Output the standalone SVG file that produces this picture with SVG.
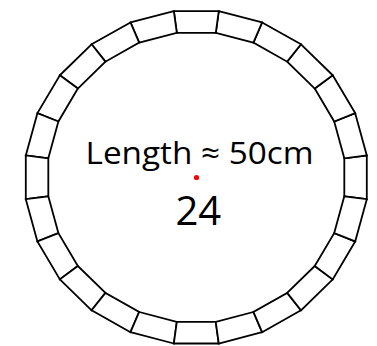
<svg xmlns="http://www.w3.org/2000/svg" width="377" height="346" viewBox="0 0 377 346">
<style>
.seg{fill:#fff;stroke:#000;stroke-width:1.8;stroke-linejoin:miter}
.lbl{font-family:"Open Sans","Liberation Sans",sans-serif;fill:#000}
</style>
<rect width="377" height="346" fill="#fff"/>
<g id="ring">
<polygon class="seg" points="366.80,155.42 366.80,199.18 344.30,196.32 344.30,158.28"/>
<polygon class="seg" points="355.18,113.15 366.80,155.42 344.30,158.28 334.22,121.52"/>
<polygon class="seg" points="332.73,75.25 355.18,113.15 334.22,121.52 314.73,88.57"/>
<polygon class="seg" points="300.99,44.31 332.73,75.25 314.73,88.57 287.18,61.67"/>
<polygon class="seg" points="262.11,22.43 300.99,44.31 287.18,61.67 253.43,42.65"/>
<polygon class="seg" points="218.75,11.10 262.11,22.43 253.43,42.65 215.78,32.80"/>
<polygon class="seg" points="173.85,11.10 218.75,11.10 215.78,32.80 176.82,32.80"/>
<polygon class="seg" points="130.49,22.43 173.85,11.10 176.82,32.80 139.17,42.65"/>
<polygon class="seg" points="91.61,44.31 130.49,22.43 139.17,42.65 105.42,61.67"/>
<polygon class="seg" points="59.87,75.25 91.61,44.31 105.42,61.67 77.87,88.57"/>
<polygon class="seg" points="37.42,113.15 59.87,75.25 77.87,88.57 58.38,121.52"/>
<polygon class="seg" points="25.80,155.42 37.42,113.15 58.38,121.52 48.30,158.28"/>
<polygon class="seg" points="25.80,199.18 25.80,155.42 48.30,158.28 48.30,196.32"/>
<polygon class="seg" points="37.42,241.45 25.80,199.18 48.30,196.32 58.38,233.08"/>
<polygon class="seg" points="59.87,279.35 37.42,241.45 58.38,233.08 77.87,266.03"/>
<polygon class="seg" points="91.61,310.29 59.87,279.35 77.87,266.03 105.42,292.93"/>
<polygon class="seg" points="130.49,332.17 91.61,310.29 105.42,292.93 139.17,311.95"/>
<polygon class="seg" points="173.85,343.50 130.49,332.17 139.17,311.95 176.82,321.80"/>
<polygon class="seg" points="218.75,343.50 173.85,343.50 176.82,321.80 215.78,321.80"/>
<polygon class="seg" points="262.11,332.17 218.75,343.50 215.78,321.80 253.43,311.95"/>
<polygon class="seg" points="300.99,310.29 262.11,332.17 253.43,311.95 287.18,292.93"/>
<polygon class="seg" points="332.73,279.35 300.99,310.29 287.18,292.93 314.73,266.03"/>
<polygon class="seg" points="355.18,241.45 332.73,279.35 314.73,266.03 334.22,233.08"/>
<polygon class="seg" points="366.80,199.18 355.18,241.45 334.22,233.08 344.30,196.32"/>
</g>
<g id="length-label">
<text class="lbl" x="85.5" y="163.8" font-size="31" textLength="228" lengthAdjust="spacingAndGlyphs">Length ≈ 50cm</text>
</g>
<g id="center">
<circle cx="196.5" cy="177.5" r="2.6" fill="#ff0000"/>
</g>
<g id="count-label">
<text class="lbl" x="198.3" y="225.3" font-size="40" text-anchor="middle">24</text>
</g>
</svg>
